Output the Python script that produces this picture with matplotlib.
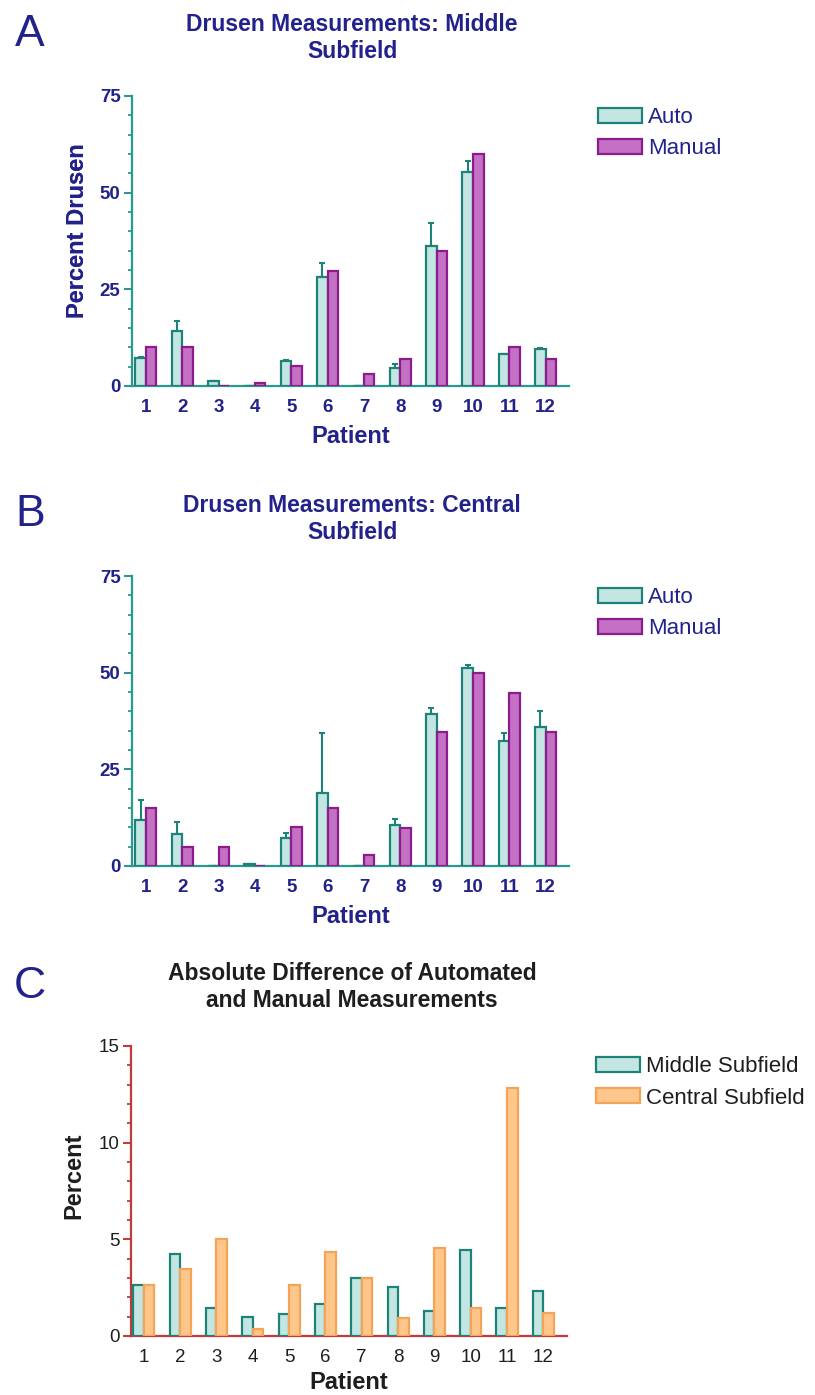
import numpy as np
import matplotlib
matplotlib.use("Agg")
import matplotlib.pyplot as plt
from matplotlib.ticker import MultipleLocator

plt.rcParams['font.family'] = ['Liberation Sans', 'DejaVu Sans']

# ---------------- data ----------------
patients = [str(i) for i in range(1, 13)]

a_auto = [7.2, 14.1, 1.4, 0, 6.5, 28.3, 0, 4.6, 36.2, 55.4, 8.4, 9.5]
a_auto_err = [0.4, 2.8, 0, 0, 0.2, 3.6, 0, 1.1, 6.0, 2.9, 0, 0.2]
a_manual = [10.0, 10.0, 0, 0.9, 5.2, 29.8, 3.0, 6.9, 35.0, 60.0, 10.0, 6.9]

b_auto = [11.9, 8.3, 0, 0.5, 7.2, 19.0, 0, 10.6, 39.2, 51.1, 32.2, 36.0]
b_auto_err = [5.2, 3.2, 0, 0, 1.4, 15.3, 0, 1.5, 1.6, 0.8, 2.1, 4.1]
b_manual = [14.9, 4.8, 4.8, 0, 10.0, 14.9, 2.8, 9.9, 34.7, 49.8, 44.7, 34.7]

c_middle = [2.62, 4.22, 1.47, 0.97, 1.14, 1.66, 3.0, 2.52, 1.29, 4.45, 1.47, 2.33]
c_central = [2.62, 3.48, 5.0, 0.34, 2.62, 4.36, 3.0, 0.91, 4.53, 1.47, 12.84, 1.17]

# ---------------- styles ----------------
NAVY = '#22228a'
TEAL = '#2a9a8e'
TEAL_EDGE = '#1d8378'
TEAL_FILL = '#c4e6e2'
PURP_FILL = '#c470c4'
PURP_EDGE = '#8c1c8c'
RED = '#c43a3e'
ORANGE_FILL = '#ffc68c'
ORANGE_EDGE = '#f4a457'
DARK = '#1e1e1e'

W, H = 815, 1395
fig = plt.figure(figsize=(W / 100, H / 100), dpi=100)

x = np.arange(len(patients))
bw = 0.29


def px_axes(left, right, y0, ytop):
    return fig.add_axes([left / W, 1 - y0 / H, (right - left) / W, (y0 - ytop) / H])


def style_axes(ax, spine_color, text_color, ymax, major, minor, xlim, bold_ticks):
    for s in ['top', 'right']:
        ax.spines[s].set_visible(False)
    for s in ['left', 'bottom']:
        ax.spines[s].set_color(spine_color)
        ax.spines[s].set_linewidth(1.6)
    ax.set_ylim(0, ymax)
    ax.set_xlim(*xlim)
    ax.yaxis.set_major_locator(MultipleLocator(major))
    ax.yaxis.set_minor_locator(MultipleLocator(minor))
    ax.tick_params(axis='y', which='major', length=6, width=1.5, color=spine_color,
                   labelcolor=text_color, labelsize=13.5, pad=2)
    ax.tick_params(axis='y', which='minor', length=3, width=1.3, color=spine_color)
    ax.set_xticks(x)
    ax.set_xticklabels(patients)
    ax.tick_params(axis='x', length=0, labelcolor=text_color, labelsize=13.5, pad=9)
    fw = 'bold' if bold_ticks else 'normal'
    for lab in ax.get_xticklabels() + ax.get_yticklabels():
        lab.set_fontweight(fw)


def drusen_panel(y0, ytop, auto, auto_err, manual, letter, title, letter_y, title_y, leg_y):
    ax = px_axes(131.7, 569.3, y0, ytop)
    b1 = ax.bar(x - bw / 2, auto, bw, color=TEAL_FILL, edgecolor=TEAL_EDGE, linewidth=1.6,
                label='Auto', zorder=3)
    ax.errorbar(x - bw / 2, auto, yerr=[np.zeros(len(auto)), auto_err], fmt='none',
                ecolor=TEAL_EDGE, elinewidth=1.5, capsize=2.5, capthick=1.5, zorder=2)
    b2 = ax.bar(x + bw / 2, manual, bw, color=PURP_FILL, edgecolor=PURP_EDGE, linewidth=1.6,
                label='Manual', zorder=3)
    style_axes(ax, TEAL, NAVY, 75, 25, 5, (-0.39, 11.65), True)
    ax.set_xlabel('Patient', fontsize=17, fontweight='bold', color=NAVY)
    ax.xaxis.set_label_coords(0.5, -39 / (y0 - ytop))
    ax.set_ylabel('Percent Drusen', fontsize=17, fontweight='bold', color=NAVY)
    ax.yaxis.set_label_coords((89 - 131.7) / 437.6, (y0 - 231) / (y0 - ytop))
    fig.text(30 / W, 1 - letter_y / H, letter, fontsize=32, color=NAVY, ha='center', va='center')
    fig.text(352 / W, 1 - title_y / H, title, fontsize=16.5, fontweight='bold', color=NAVY,
             ha='center', va='center', multialignment='center', linespacing=1.2)
    leg = ax.legend(handles=[b1, b2], loc='center left',
                    bbox_to_anchor=(598 / W, 1 - leg_y / H), bbox_transform=fig.transFigure,
                    frameon=False, fontsize=16, handlelength=2.0, handleheight=0.65,
                    handletextpad=0.25, labelspacing=0.45, borderpad=0, borderaxespad=0)
    for t in leg.get_texts():
        t.set_color(NAVY)
    return ax


drusen_panel(386, 96, a_auto, a_auto_err, a_manual, 'A',
             'Drusen Measurements: Middle\nSubfield', 35, 38, 133)
drusen_panel(866, 576, b_auto, b_auto_err, b_manual, 'B',
             'Drusen Measurements: Central\nSubfield', 514, 519, 613.5)

# ---------------- panel C ----------------
axc = px_axes(130.7, 567.3, 1336, 1046)
c1 = axc.bar(x - bw / 2, c_middle, bw, color=TEAL_FILL, edgecolor=TEAL_EDGE, linewidth=1.6,
             label='Middle Subfield', zorder=3)
c2 = axc.bar(x + bw / 2, c_central, bw, color=ORANGE_FILL, edgecolor=ORANGE_EDGE, linewidth=1.6,
             label='Central Subfield', zorder=3)
style_axes(axc, RED, DARK, 15, 5, 1, (-0.36, 11.66), False)
axc.set_xlabel('Patient', fontsize=17, fontweight='bold', color=DARK)
axc.xaxis.set_label_coords(0.5, -35 / 290)
axc.set_ylabel('Percent', fontsize=17, fontweight='bold', color=DARK)
axc.yaxis.set_label_coords((85 - 130.7) / 436.6, (1336 - 1176) / 290)
fig.text(30 / W, 1 - 987 / H, 'C', fontsize=32, color=NAVY, ha='center', va='center')
fig.text(352 / W, 1 - 987 / H, 'Absolute Difference of Automated\nand Manual Measurements',
         fontsize=16.5, fontweight='bold', color=DARK, ha='center', va='center',
         multialignment='center', linespacing=1.2)
legc = axc.legend(handles=[c1, c2], loc='center left',
                  bbox_to_anchor=(596 / W, 1 - 1082.5 / H), bbox_transform=fig.transFigure,
                  frameon=False, fontsize=16, handlelength=2.0, handleheight=0.65,
                  handletextpad=0.25, labelspacing=0.45, borderpad=0, borderaxespad=0)
for t in legc.get_texts():
    t.set_color(DARK)

fig.savefig('out.png', dpi=100)
